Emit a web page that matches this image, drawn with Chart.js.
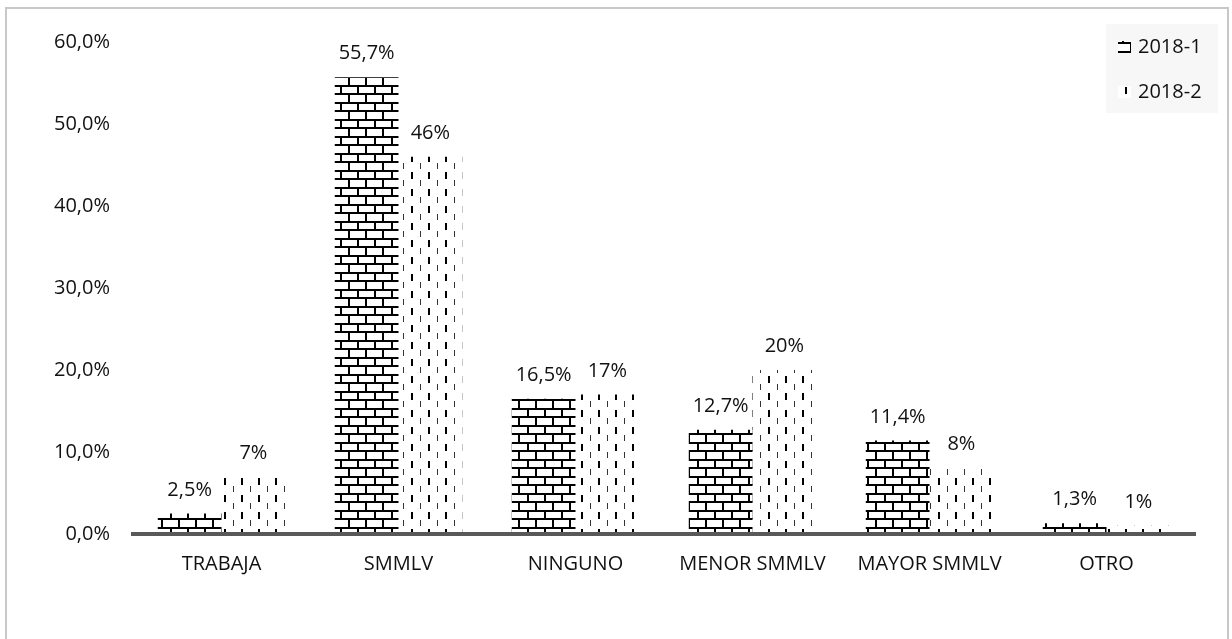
<!DOCTYPE html>
<html>
<head>
<meta charset="utf-8">
<script src="https://cdn.jsdelivr.net/npm/chart.js@4.4.1/dist/chart.umd.min.js"></script>
<style>
  html, body { margin: 0; padding: 0; background: #fff; }
  #wrap { position: relative; width: 1232px; height: 639px; overflow: hidden; }
  #frame { position: absolute; left: 5px; top: 7px; width: 1220px; height: 700px;
           border: 2px solid #c8c8c8; border-bottom: none; }
  #chart { position: absolute; left: 0; top: 0; }
</style>
</head>
<body>
<div id="wrap">
  <div id="frame"></div>
  <canvas id="chart" width="1232" height="639"></canvas>
</div>
<script>
// datos
const categorias = ['TRABAJA', 'SMMLV', 'NINGUNO', 'MENOR SMMLV', 'MAYOR SMMLV', 'OTRO'];
const serie2018_1 = [2.5, 55.7, 16.5, 12.7, 11.4, 1.3];
const serie2018_2 = [7, 46, 17, 20, 8, 1];
const ticksY = [0, 10, 20, 30, 40, 50, 60];

const FONT = '"Open Sans", Lato, sans-serif';
const FSIZE = 20;
const fmtComa = (v, dec) => v.toFixed(dec).replace('.', ',') + '%';

function patronLadrillo() {
  const c = document.createElement('canvas');
  c.width = 17; c.height = 17;
  const g = c.getContext('2d');
  g.fillStyle = '#fff'; g.fillRect(0, 0, 17, 17);
  g.fillStyle = '#000';
  g.fillRect(0, 0, 17, 2);
  g.fillRect(0, 8, 17, 2);
  g.fillRect(0, 0, 2, 8);
  g.fillRect(8, 8, 2, 9);
  return g.createPattern(c, 'repeat');
}

function patronRayas() {
  const c = document.createElement('canvas');
  c.width = 17; c.height = 17;
  const g = c.getContext('2d');
  g.fillStyle = '#fff'; g.fillRect(0, 0, 17, 17);
  g.fillStyle = '#000';
  g.fillRect(3, 2, 2, 7);
  g.fillStyle = '#333';
  g.fillRect(12, 10, 1, 6);
  return g.createPattern(c, 'repeat');
}

const etiquetas = {
  id: 'etiquetas',
  afterDatasetsDraw(chart) {
    const ctx = chart.ctx;
    ctx.save();
    ctx.font = FSIZE + 'px ' + FONT;
    ctx.fillStyle = '#111';
    ctx.textAlign = 'center';
    ctx.textBaseline = 'alphabetic';
    chart.data.datasets.forEach((ds, i) => {
      chart.getDatasetMeta(i).data.forEach((bar, j) => {
        ctx.fillText(fmtComa(ds.data[j], ds.decimales), bar.x, bar.y - 18);
      });
    });
    ctx.restore();
  }
};

const leyenda = {
  id: 'leyenda',
  afterDraw(chart) {
    const ctx = chart.ctx;
    const a = chart.chartArea;
    const x0 = a.right - 89, y0 = a.top - 18;
    ctx.save();
    ctx.fillStyle = '#f7f7f7';
    ctx.fillRect(x0, y0, 112, 89);
    ctx.font = FSIZE + 'px ' + FONT;
    ctx.textBaseline = 'middle';
    chart.data.datasets.forEach((ds, i) => {
      const cy = y0 + 23 + i * 45;
      ctx.fillStyle = ds.backgroundColor;
      ctx.fillRect(x0 + 12, cy - 6, 13, 12);
      ctx.fillStyle = '#111';
      ctx.fillText(ds.label, x0 + 32, cy);
    });
    ctx.restore();
  }
};

new Chart(document.getElementById('chart'), {
  type: 'bar',
  data: {
    labels: categorias,
    datasets: [
      { label: '2018-1', data: serie2018_1, backgroundColor: patronLadrillo(), decimales: 1 },
      { label: '2018-2', data: serie2018_2, backgroundColor: patronRayas(), decimales: 0 },
    ],
  },
  options: {
    responsive: false,
    animation: false,
    layout: { padding: { left: 0, right: 37, top: 42, bottom: 0 } },
    datasets: { bar: { categoryPercentage: 0.72, barPercentage: 1, borderWidth: 0 } },
    plugins: { legend: { display: false }, tooltip: { enabled: false } },
    scales: {
      x: {
        z: 1,
        grid: { display: false, drawTicks: false },
        border: { display: true, color: '#595959', width: 4, z: 1 },
        ticks: { color: '#111', font: { family: FONT, size: FSIZE }, padding: 18, maxRotation: 0 },
        afterFit(s) { s.height = 105; },
      },
      y: {
        min: 0, max: 60,
        afterBuildTicks(s) { s.ticks = ticksY.map(v => ({ value: v })); },
        grid: { display: false, drawTicks: false },
        border: { display: false },
        ticks: { color: '#111', font: { family: FONT, size: FSIZE }, padding: 23,
                 callback: v => fmtComa(v, 1) },
        afterFit(s) { s.width = 133; },
      },
    },
  },
  plugins: [etiquetas, leyenda],
});
</script>
</body>
</html>
